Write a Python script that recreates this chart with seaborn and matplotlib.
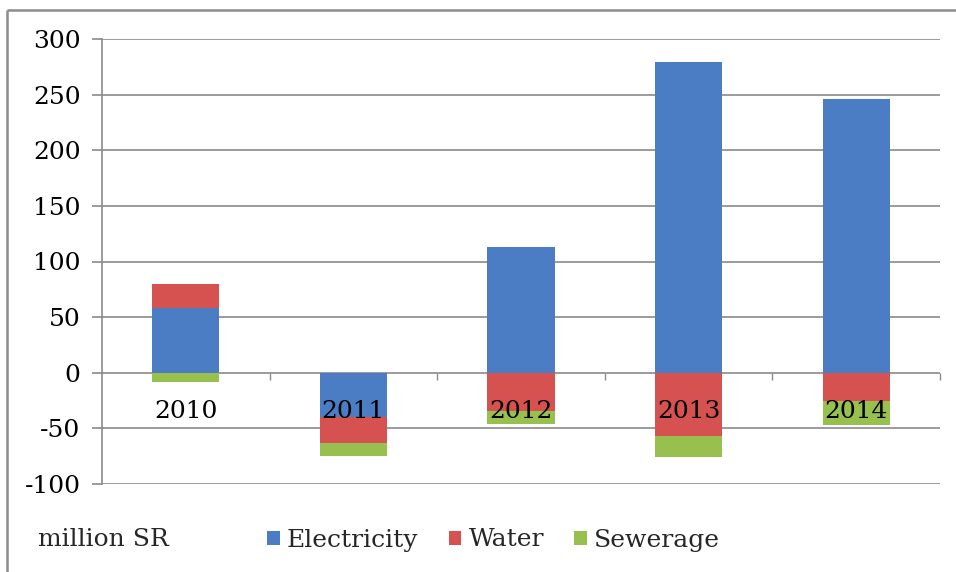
import matplotlib
matplotlib.use("Agg")
import matplotlib.pyplot as plt
from matplotlib.lines import Line2D
from matplotlib.ticker import FixedLocator
import numpy as np
import pandas as pd
import seaborn as sns

# Subsidy balance by utility, million SR
years = ["2010", "2011", "2012", "2013", "2014"]
electricity = [58, -40, 113, 279, 246]
water = [22, -23, -34, -57, -25]
sewerage = [-8, -12, -12, -19, -22]
series_names = ["Electricity", "Water", "Sewerage"]
series_colors = ["#4A7DC4", "#D65250", "#98C04F"]
yticks = [-100, -50, 0, 50, 100, 150, 200, 250, 300]

sns.set_theme(style="white")
plt.rcParams["font.family"] = ["DejaVu Serif", "Liberation Serif"]
plt.rcParams["axes.unicode_minus"] = False

fig = plt.figure(figsize=(9.56, 5.72), dpi=100)
fig.patch.set_edgecolor("white")
fig.patch.set_linewidth(0)
ax = fig.add_axes([102 / 956, 1 - 484 / 572, 838 / 956, 445 / 572])

# stack positive values upward and negative values downward
pos_base = np.zeros(len(years))
neg_base = np.zeros(len(years))
for name, vals, color in zip(series_names, [electricity, water, sewerage], series_colors):
    vals = np.asarray(vals, dtype=float)
    bottoms = np.where(vals >= 0, pos_base, neg_base)
    df = pd.DataFrame({"year": years, "value": vals})
    sns.barplot(data=df, x="year", y="value", bottom=bottoms, color=color,
                width=0.4, ax=ax, label=name, linewidth=0, saturation=1)
    pos_base = np.where(vals >= 0, pos_base + vals, pos_base)
    neg_base = np.where(vals < 0, neg_base + vals, neg_base)

ax.set_xlim(-0.5, len(years) - 0.5)
ax.set_ylim(-100, 300)
ax.set_yticks(yticks)
ax.set_yticklabels([str(t) for t in yticks])
ax.set_xlabel("")
ax.set_ylabel("")

grid_color = "#8a8a8a"
ax.set_axisbelow(True)
ax.yaxis.grid(True, color=grid_color, linewidth=1.2)
ax.xaxis.set_zorder(3)

for side in ["top", "right"]:
    ax.spines[side].set_visible(False)
ax.spines["left"].set_color(grid_color)
ax.spines["left"].set_linewidth(1.2)
ax.spines["bottom"].set_position(("data", 0))
ax.spines["bottom"].set_visible(False)

fs = 18
ax.xaxis.set_minor_locator(FixedLocator(np.arange(len(years)) + 0.5))
ax.tick_params(axis="x", which="major", length=0, pad=19.5, labelsize=fs, colors="black")
ax.tick_params(axis="x", which="minor", length=5, width=1, color=grid_color, direction="out", bottom=True)
ax.tick_params(axis="y", which="major", length=7, width=1.2, color=grid_color, pad=8.5,
               labelsize=fs, left=True, labelcolor="black")

# legend row along the bottom
leg = ax.legend(loc="center left", bbox_to_anchor=(267 / 956, 1 - 540 / 572),
                bbox_transform=fig.transFigure, ncol=3, frameon=False, fontsize=fs,
                handlelength=0.5, handleheight=0.5, handletextpad=0.3,
                columnspacing=1.2, borderpad=0, borderaxespad=0)
fig.text(38 / 956, 1 - 540 / 572, "million SR", fontsize=fs, va="center", ha="left")

# outer chart frame (top and left edges)
frame_kw = dict(transform=fig.transFigure, color="#8c8c8c", linewidth=1.8,
                solid_capstyle="butt")
fig.add_artist(Line2D([7 / 956, 1.05], [1 - 10 / 572] * 2, **frame_kw))
fig.add_artist(Line2D([7 / 956] * 2, [-0.05, 1 - 10 / 572], **frame_kw))

fig.savefig("out.png", dpi=100)
